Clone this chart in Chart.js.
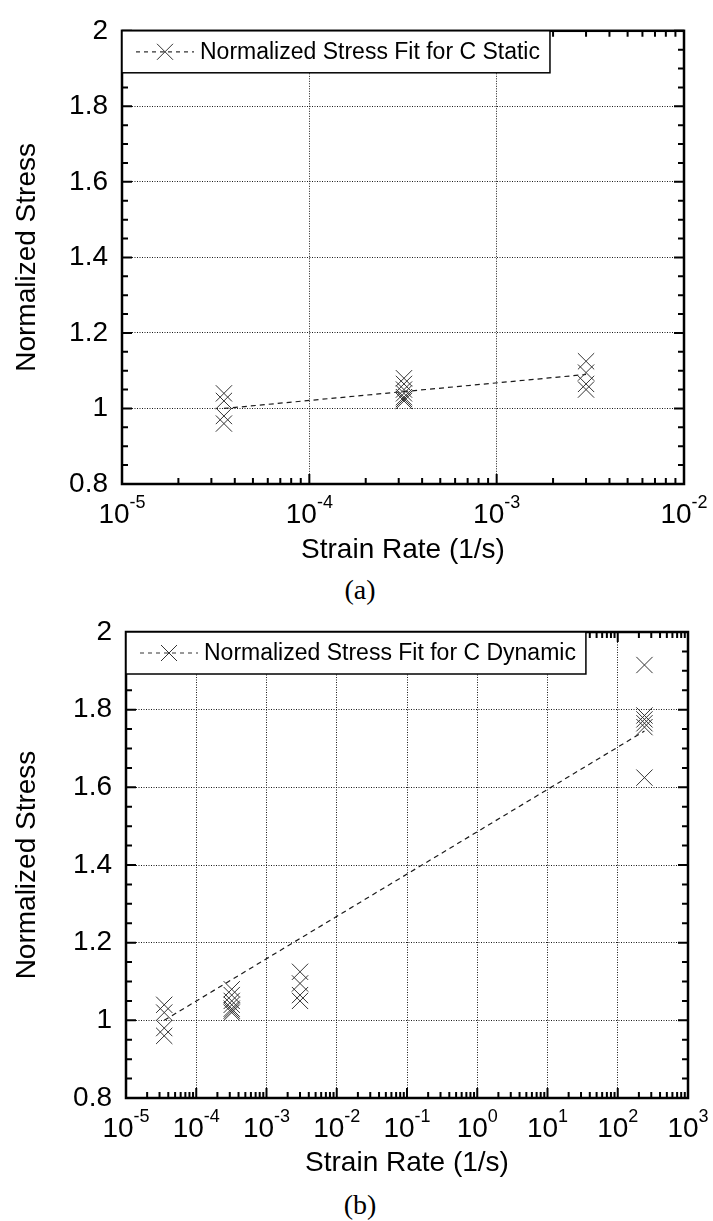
<!DOCTYPE html>
<html>
<head>
<meta charset="utf-8">
<script src="https://cdn.jsdelivr.net/npm/chart.js@4.4.0/dist/chart.umd.min.js"></script>
<style>
  body { margin: 0; background: #fff; width: 713px; height: 1221px; position: relative; overflow: hidden; }
  canvas { position: absolute; left: 0; }
  #chartA { top: 0; }
  #chartB { top: 600px; }
  .caption { position: absolute; left: 0; width: 720px; text-align: center;
    font-family: "Liberation Serif", "Times New Roman", serif; font-size: 28px; color: #000; line-height: 32px; }
</style>
</head>
<body>
<canvas id="chartA" width="713" height="572"></canvas>
<div class="caption" style="top:574px">(a)</div>
<canvas id="chartB" width="713" height="585"></canvas>
<div class="caption" style="top:1189px">(b)</div>
<script>
/* tick labels */
var yTicks = [0.8, 1, 1.2, 1.4, 1.6, 1.8, 2];
var xTicksStatic = [1e-5, 1e-4, 1e-3, 1e-2];
var xTicksDynamic = [1e-5, 1e-4, 1e-3, 1e-2, 1e-1, 1, 1e1, 1e2, 1e3];

/* measured normalized stress at each strain rate */
var rates = [3.5e-5, 3.2e-4, 3e-3, 240];
var stressRate1 = [1.04, 1.02, 0.98, 0.96];
var stressRate2 = [1.08, 1.065, 1.05, 1.04, 1.03, 1.025, 1.02];
var stressRate3 = [1.125, 1.095, 1.065, 1.05];
var stressRate4 = [1.915, 1.785, 1.775, 1.765, 1.755, 1.625];

/* fit lines */
var fitStaticRate = [3.5e-5, 3e-3];
var fitStaticStress = [1.0, 1.09];
var fitDynamicRate = [3.5e-5, 240];
var fitDynamicStress = [1.0, 1.745];

var FONT = 'Arial, "Liberation Sans", sans-serif';

function toPoints(xs, ys) {
  return ys.map(function (y, i) { return { x: Array.isArray(xs) ? xs[i] : xs, y: y }; });
}

/* inward ticks, frame, superscript x labels and boxed legend */
var framePlugin = {
  id: 'framePlugin',
  afterDraw: function (chart) {
    var ctx = chart.ctx, a = chart.chartArea;
    var xs = chart.scales.x, ys = chart.scales.y;
    ctx.save();
    ctx.strokeStyle = '#000';
    ctx.lineWidth = 2;
    ctx.setLineDash([]);
    ctx.beginPath();
    // x ticks (bottom + top)
    xs.ticks.forEach(function (t, i) {
      var px = xs.getPixelForValue(t.value);
      ctx.moveTo(px, a.bottom); ctx.lineTo(px, a.bottom - 10);
      ctx.moveTo(px, a.top); ctx.lineTo(px, a.top + 10);
      if (i < xs.ticks.length - 1) {
        for (var m = 2; m < 10; m++) {
          var mx = xs.getPixelForValue(t.value * m);
          ctx.moveTo(mx, a.bottom); ctx.lineTo(mx, a.bottom - 6);
          ctx.moveTo(mx, a.top); ctx.lineTo(mx, a.top + 6);
        }
      }
    });
    // y ticks (left + right), minor every quarter
    ys.ticks.forEach(function (t, i) {
      var py = ys.getPixelForValue(t.value);
      ctx.moveTo(a.left, py); ctx.lineTo(a.left + 10, py);
      ctx.moveTo(a.right, py); ctx.lineTo(a.right - 10, py);
      if (i < ys.ticks.length - 1) {
        var step = (ys.ticks[i + 1].value - t.value) / 4;
        for (var k = 1; k < 4; k++) {
          var my = ys.getPixelForValue(t.value + step * k);
          ctx.moveTo(a.left, my); ctx.lineTo(a.left + 6, my);
          ctx.moveTo(a.right, my); ctx.lineTo(a.right - 6, my);
        }
      }
    });
    ctx.stroke();

    // frame
    ctx.lineWidth = 2.5;
    ctx.strokeRect(a.left, a.top, a.right - a.left, a.bottom - a.top);

    // x tick labels 10^n
    ctx.fillStyle = '#000';
    ctx.textBaseline = 'middle';
    ctx.textAlign = 'left';
    xs.ticks.forEach(function (t) {
      var px = xs.getPixelForValue(t.value);
      var exp = String(Math.round(Math.log10(t.value)));
      ctx.font = '28px ' + FONT;
      var w1 = ctx.measureText('10').width;
      ctx.font = '18px ' + FONT;
      var w2 = ctx.measureText(exp).width;
      var x0 = px - (w1 + w2) / 2;
      var ly = a.bottom + 31;
      ctx.font = '28px ' + FONT;
      ctx.fillText('10', x0, ly);
      ctx.font = '18px ' + FONT;
      ctx.fillText(exp, x0 + w1, ly - 12);
    });

    // legend box
    var ds = chart.data.datasets[1];
    ctx.font = '23px ' + FONT;
    var tw = ctx.measureText(ds.label).width;
    var bx = a.left, by = a.top, bh = 42, bw = 78 + tw + 10;
    ctx.fillStyle = '#fff';
    ctx.fillRect(bx, by, bw, bh);
    ctx.strokeStyle = '#000';
    ctx.lineWidth = 1.5;
    ctx.strokeRect(bx, by, bw, bh);
    var cy = by + bh / 2;
    ctx.strokeStyle = '#333';
    ctx.lineWidth = 1.2;
    ctx.setLineDash([4, 4]);
    ctx.beginPath();
    ctx.moveTo(bx + 14, cy); ctx.lineTo(bx + 72, cy);
    ctx.stroke();
    ctx.setLineDash([]);
    ctx.lineWidth = 1;
    ctx.beginPath();
    ctx.moveTo(bx + 35, cy - 8); ctx.lineTo(bx + 51, cy + 8);
    ctx.moveTo(bx + 35, cy + 8); ctx.lineTo(bx + 51, cy - 8);
    ctx.stroke();
    ctx.fillStyle = '#000';
    ctx.font = '23px ' + FONT;
    ctx.fillText(ds.label, bx + 78, cy + 1);
    ctx.restore();
  }
};

function makeChart(id, o) {
  var pts = [].concat(
    toPoints(rates[0], stressRate1),
    toPoints(rates[1], stressRate2),
    toPoints(rates[2], stressRate3),
    o.dynamic ? toPoints(rates[3], stressRate4) : []
  );
  return new Chart(document.getElementById(id), {
    type: 'scatter',
    data: {
      datasets: [{
        label: 'data',
        data: pts,
        pointStyle: 'crossRot',
        pointRadius: 11.5,
        pointBorderColor: '#333',
        pointBorderWidth: 1
      }, {
        label: o.label,
        data: toPoints(o.fitX, o.fitY),
        showLine: true,
        pointRadius: 0,
        borderColor: '#1a1a1a',
        borderWidth: 1.2,
        borderDash: [5, 4]
      }]
    },
    options: {
      responsive: false,
      animation: false,
      layout: { padding: { top: o.top, right: o.right, left: 0, bottom: 0 } },
      plugins: { legend: { display: false }, tooltip: { enabled: false } },
      scales: {
        x: {
          type: 'logarithmic',
          min: o.xTicks[0],
          max: o.xTicks[o.xTicks.length - 1],
          afterBuildTicks: function (s) { s.ticks = o.xTicks.map(function (v) { return { value: v, major: true }; }); },
          afterFit: function (s) { s.height = o.xh; },
          ticks: { display: false },
          grid: { color: 'rgba(0,0,0,0.9)', lineWidth: 1, drawTicks: false },
          border: { display: false, dash: [1, 1.5] },
          title: { display: true, text: 'Strain Rate (1/s)', color: '#000',
            font: { family: FONT, size: 28 }, padding: { top: 0, bottom: o.tpb } }
        },
        y: {
          min: 0.8,
          max: 2,
          afterBuildTicks: function (s) { s.ticks = yTicks.map(function (v) { return { value: v }; }); },
          afterFit: function (s) { s.width = o.yw; },
          ticks: { color: '#000', font: { family: FONT, size: 28 }, padding: 14,
            callback: function (v) { return String(Math.round(v * 10) / 10); } },
          grid: { color: 'rgba(0,0,0,0.9)', lineWidth: 1, drawTicks: false },
          border: { display: false, dash: [1, 1.5] },
          title: { display: true, text: 'Normalized Stress', color: '#000',
            font: { family: FONT, size: 28 }, padding: { top: 10, bottom: 0 } }
        }
      }
    },
    plugins: [framePlugin]
  });
}

makeChart('chartA', {
  label: 'Normalized Stress Fit for C Static',
  fitX: fitStaticRate, fitY: fitStaticStress,
  xTicks: xTicksStatic, dynamic: false,
  top: 20, right: 29, yw: 122, xh: 88, tpb: 5
});

makeChart('chartB', {
  label: 'Normalized Stress Fit for C Dynamic',
  fitX: fitDynamicRate, fitY: fitDynamicStress,
  xTicks: xTicksDynamic, dynamic: true,
  top: 32, right: 25, yw: 126, xh: 87, tpb: 5
});
</script>
</body>
</html>
